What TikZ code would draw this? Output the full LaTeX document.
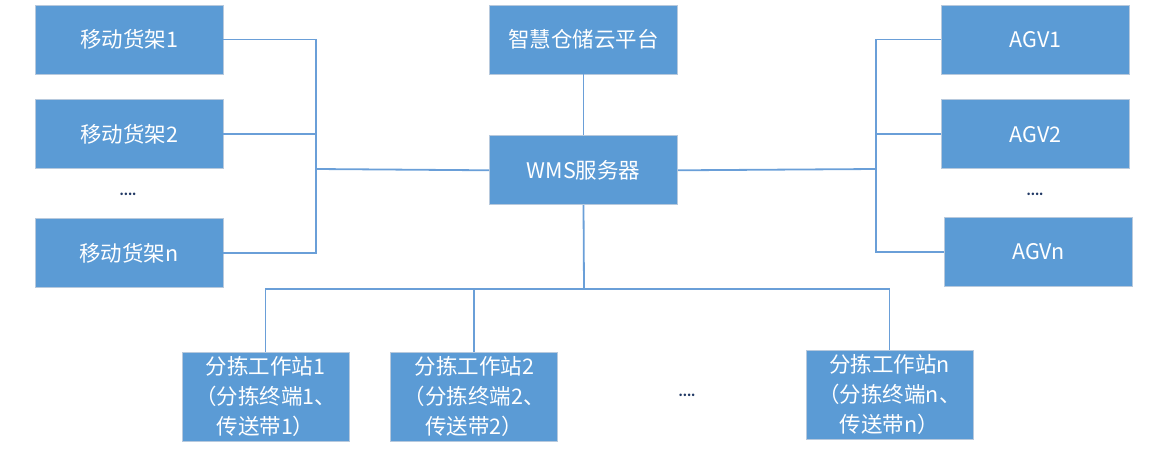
\documentclass[tikz,border=0pt]{standalone}
\usepackage{fontspec}
\setmainfont{Noto Sans CJK SC}
\usepackage{tikz}
\usetikzlibrary{positioning}
\definecolor{BoxBlue}{HTML}{5B9BD5}
\definecolor{EdgeGray}{HTML}{B7C9DD}
\definecolor{LinkBlue}{HTML}{6A9FD8}
\definecolor{DotNavy}{HTML}{203864}

\begin{document}
\begin{tikzpicture}[
x=1pt,y=-1pt,
node distance=25pt and 41pt,
box/.style={draw=EdgeGray,line width=0.8pt,fill=BoxBlue,text=white,minimum width=188pt,minimum height=69pt,inner sep=0pt,font=\fontsize{21.5}{26}\selectfont},
wsbox/.style={box,minimum width=167pt,minimum height=89pt,align=center,font=\fontsize{21.5}{30}\selectfont},
link/.style={draw=LinkBlue,line width=1.8pt},
more/.style={text=DotNavy,font=\fontsize{12}{12}\selectfont\bfseries,inner sep=0pt,anchor=base}
]
\useasboundingbox (0,0) rectangle (1164,455);
% shelves
\node[box] (shelf1) at (129,39.5) {移动货架1};
\node[box,below=of shelf1] (shelf2) {移动货架2};
\node[box,below=49pt of shelf2] (shelfn) {移动货架n};
\node[more] (shelfdots) at (128,195) {....};
% platform and server
\node[box] (cloud) at (583.5,39.5) {智慧仓储云平台};
\node[box,below=61pt of cloud] (wms) {WMS服务器};
% agvs
\node[box] (agv1) at (1035.5,39.5) {AGV1};
\node[box,below=of agv1] (agv2) {AGV2};
\node[box] (agvn) at (1038.5,252) {AGVn};
\node[more] (agvdots) at (1035,195) {....};
% picking stations
\node[wsbox] (ws1) at (265.5,396.5) {分拣工作站1\\（分拣终端1、\\传送带1）};
\node[wsbox,right=of ws1] (ws2) {分拣工作站2\\（分拣终端2、\\传送带2）};
\node[wsbox] (wsn) at (889.5,394.5) {分拣工作站n\\（分拣终端n、\\传送带n）};
\node[more] (wsdots) at (687,396) {....};
\coordinate (lj) at (316,169);
\coordinate (rj) at (876,169);
\coordinate (bj) at (584,289);
\draw[link] (shelf1.east) -| (lj) |- (shelfn.east);
\draw[link] (shelf2.east) -- (shelf2.east -| lj);
\draw[link] (lj) -- (wms.west);
\draw[link] (agv1.west) -| (rj) |- (agvn.west);
\draw[link] (agv2.west) -- (agv2.west -| rj);
\draw[link] (rj) -- (wms.east);
\draw[link] (cloud) -- (wms);
\draw[link] (wms.south) -- (bj);
\draw[link] (ws1.north) |- (bj) -| (wsn.north);
\draw[link] (ws2.north) -- (ws2.north |- bj);
\end{tikzpicture}
\end{document}
